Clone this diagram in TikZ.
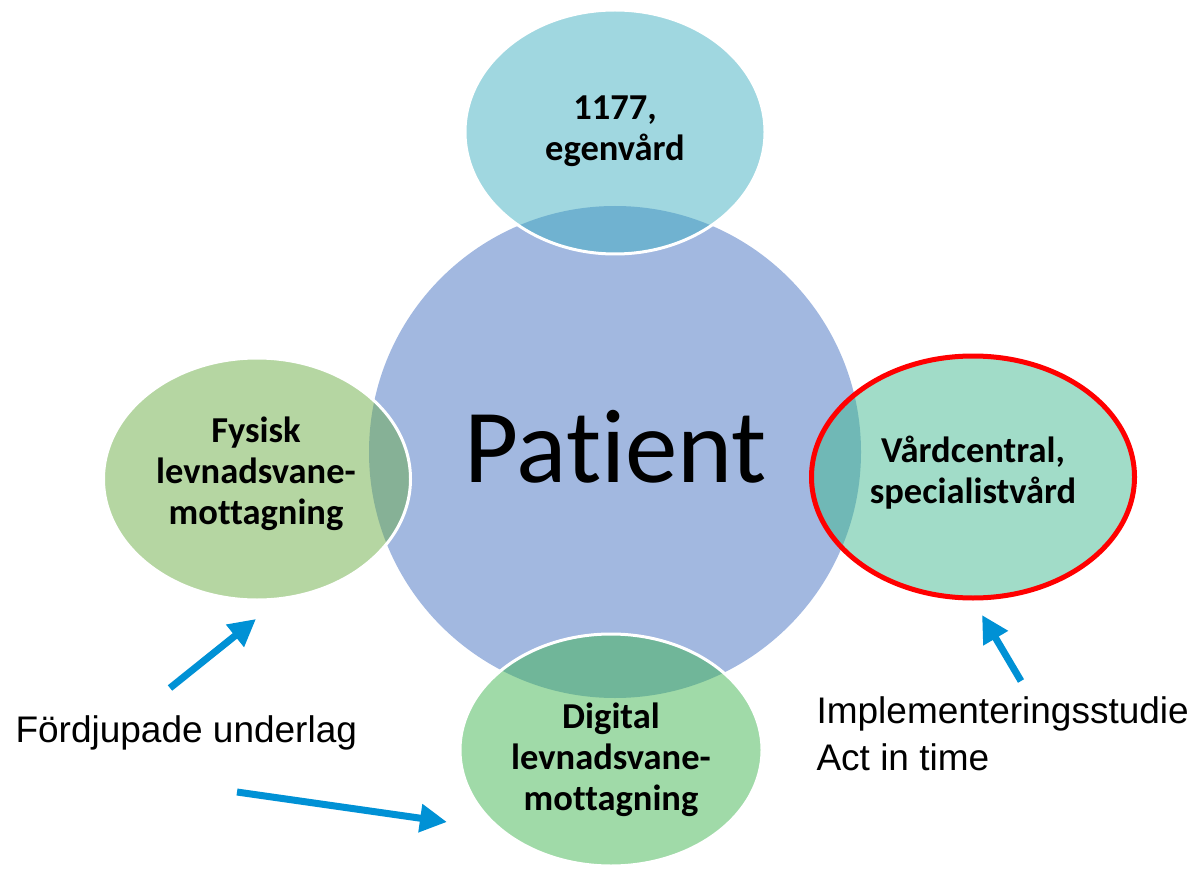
\documentclass[tikz,border=0pt]{standalone}
\usepackage{fontspec}
\setmainfont{Carlito}[Ligatures=NoCommon]
\newfontfamily\arialfont{Liberation Sans}
\usetikzlibrary{shapes.geometric,arrows.meta}
\definecolor{patcolor}{HTML}{A2B8E0}
\definecolor{topcolor}{HTML}{A0D7E0}
\definecolor{topover}{HTML}{70B2D0}
\definecolor{fyscolor}{HTML}{B5D6A2}
\definecolor{fysover}{HTML}{86B196}
\definecolor{vccolor}{HTML}{A1DCC8}
\definecolor{vcover}{HTML}{70B8B6}
\definecolor{digcolor}{HTML}{A0DAA8}
\definecolor{digover}{HTML}{70B699}
\definecolor{arrowblue}{HTML}{0091D5}
\def\patrad{246pt}
\tikzset{
    sat/.style={% satellite ellipse, darker where it lies on the patient circle
        ellipse, inner sep=0pt, draw=white, line width=3pt,
        path picture={\fill[#1] (pat.center) circle[radius=\patrad];}
        },
    lbl/.style={font=\fontsize{36.5}{41}\selectfont\bfseries, align=center},
    note/.style={font=\arialfont\fontsize{37}{47}\selectfont, align=left},
    pointer/.style={arrowblue, line width=7pt,
        -{Triangle[length=27pt,width=27pt]}}
}

\begin{document}
\begin{tikzpicture}[x=1pt,y=-1pt]
\useasboundingbox (0,0) rectangle (1194,877);

% the patient in the middle
\node[circle, fill=patcolor, minimum size=492pt, inner sep=0pt] (pat) at (615,452) {};
\node[font=\fontsize{105}{120}\selectfont, anchor=base] (patT) at (616,482) {Patient};

% the four care levels round it
\node[sat=topover, fill=topcolor, minimum width=300pt, minimum height=244pt] (top) at (615,132) {};
\node[lbl] (topT) at (615,131) {1177,\\egenvård};

\node[sat=fysover, fill=fyscolor, minimum width=307pt, minimum height=242pt] (fys) at (257,479) {};
\node[lbl] (fysT) at (256,474) {Fysisk\\levnadsvane-\\mottagning};

\node[sat=vcover, fill=vccolor, draw=red, line width=5pt, minimum width=323pt, minimum height=242pt] (vc) at (973,477) {};
\node[lbl] (vcT) at (973,473) {Vårdcentral,\\specialistvård};

\node[sat=digover, fill=digcolor, minimum width=302pt, minimum height=232pt] (dig) at (611,750) {};
\node[lbl] (digT) at (611,760) {Digital\\levnadsvane-\\mottagning};

% notes and arrows
\node[note, anchor=base west] (fd) at (12,742) {Fördjupade underlag};
\node[note, anchor=base west] (impl) at (813,770) {Implementeringsstudie\\Act in time};

\coordinate (fdA) at (170,688);
\coordinate (fdAend) at (256,619);
\coordinate (fdB) at (237,792);
\coordinate (fdBend) at (447,822);
\coordinate (implA) at (1021,681);
\coordinate (implAend) at (982,615);
\draw[pointer] (fdA) -- (fdAend);
\draw[pointer] (fdB) -- (fdBend);
\draw[pointer] (implA) -- (implAend);
\end{tikzpicture}
\end{document}
